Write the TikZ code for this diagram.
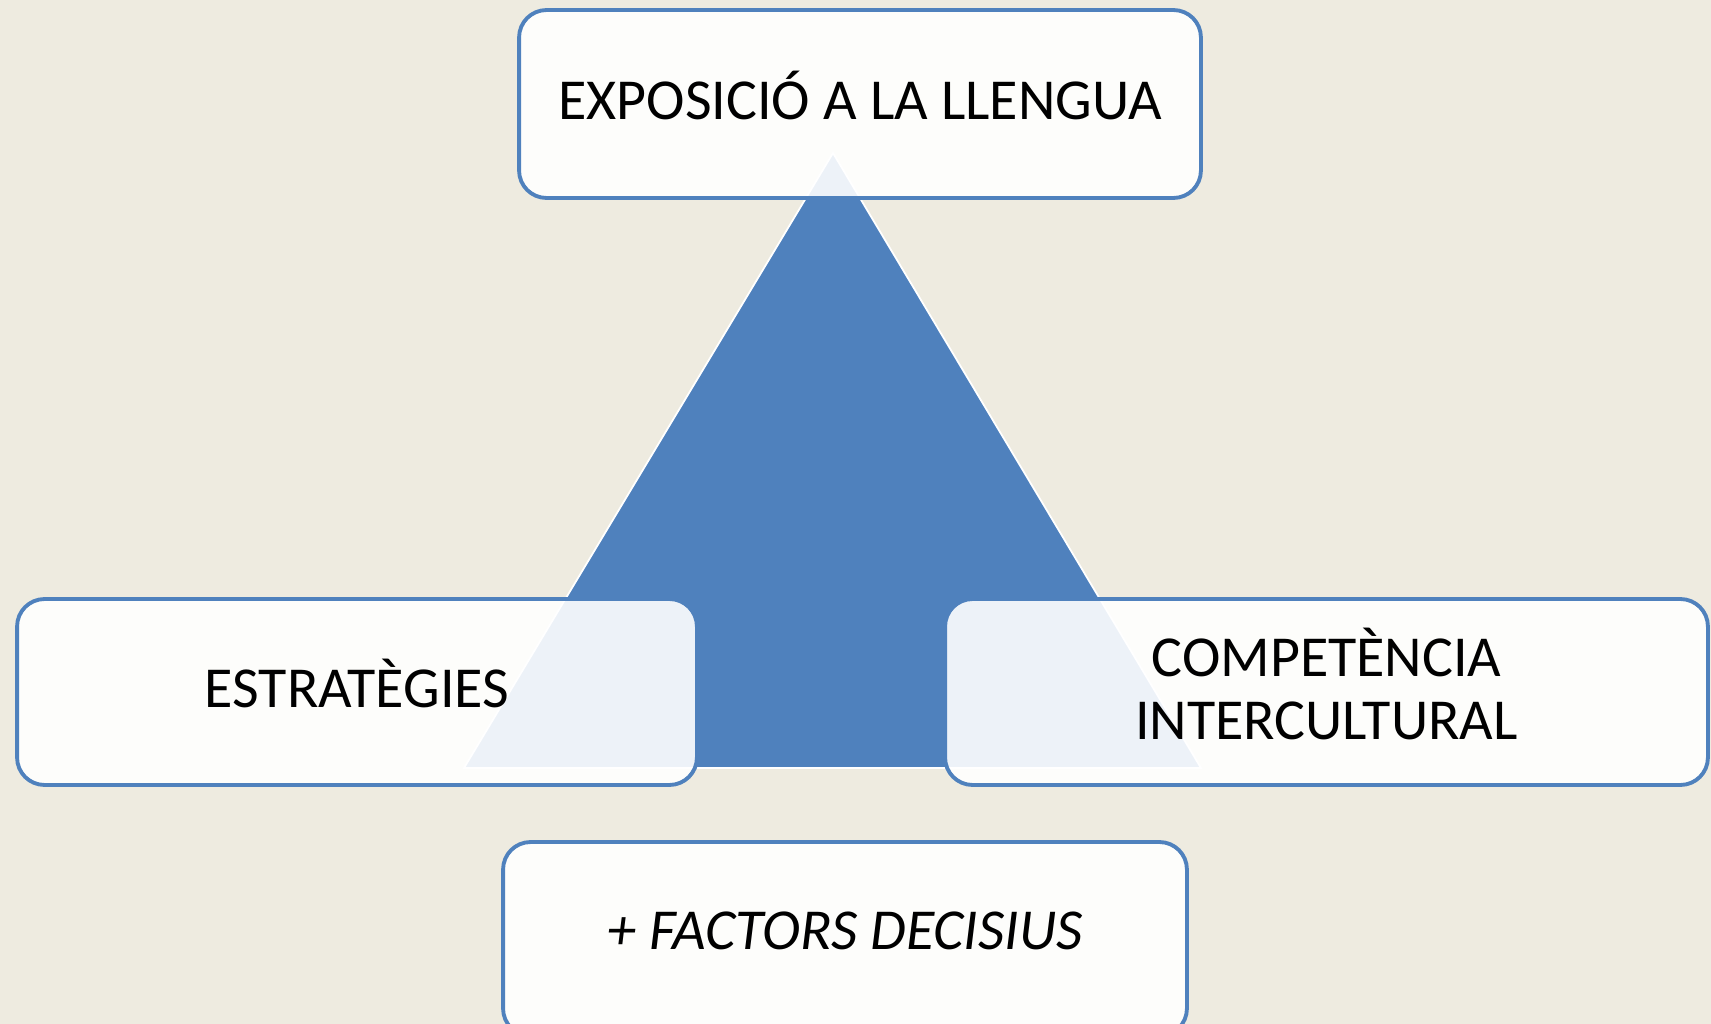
\documentclass[tikz,border=0pt]{standalone}
\usepackage{fontspec}
\setmainfont{Carlito}
\usepackage{xcolor}
\usepackage{tikz}
\definecolor{fonsbeix}{HTML}{EEEBE0}
\definecolor{blaupiram}{HTML}{4F81BD}

\begin{document}
\begin{tikzpicture}[x=0.02cm,y=-0.02cm,
    caixa/.style={draw=blaupiram, line width=2.2pt, rounded corners=0.55cm,
        fill=white, fill opacity=0.9, text opacity=1, align=center,
        inner sep=0pt, text depth=9.5pt, font=\fontsize{33}{36}\selectfont}]
    \fill [fonsbeix] (0,0) rectangle (1711,1024);
    \useasboundingbox (0,0) rectangle (1711,1024);
    \clip (0,0) rectangle (1711,1024);
    % triangle
    \coordinate (cim) at (833,153);
    \coordinate (baseE) at (464,768);
    \coordinate (baseD) at (1201,768);
    \filldraw [fill=blaupiram, draw=white, line width=1pt] (cim) -- (baseD) -- (baseE) -- cycle;
    % caixes
    \node [caixa, minimum width=13.64cm, minimum height=3.76cm] (exposicio) at (860,104) {EXPOSICIÓ A LA LLENGUA};
    \node [caixa, minimum width=13.6cm, minimum height=3.72cm] (estrategies) at (357,692) {ESTRATÈGIES};
    \node [caixa, minimum width=15.26cm, minimum height=3.72cm] (competencia) at (1326.5,692) {COMPETÈNCIA\\INTERCULTURAL};
    \node [caixa, minimum width=13.68cm, minimum height=3.88cm] (factors) at (845,939) {\itshape + FACTORS DECISIUS};
\end{tikzpicture}
\end{document}
